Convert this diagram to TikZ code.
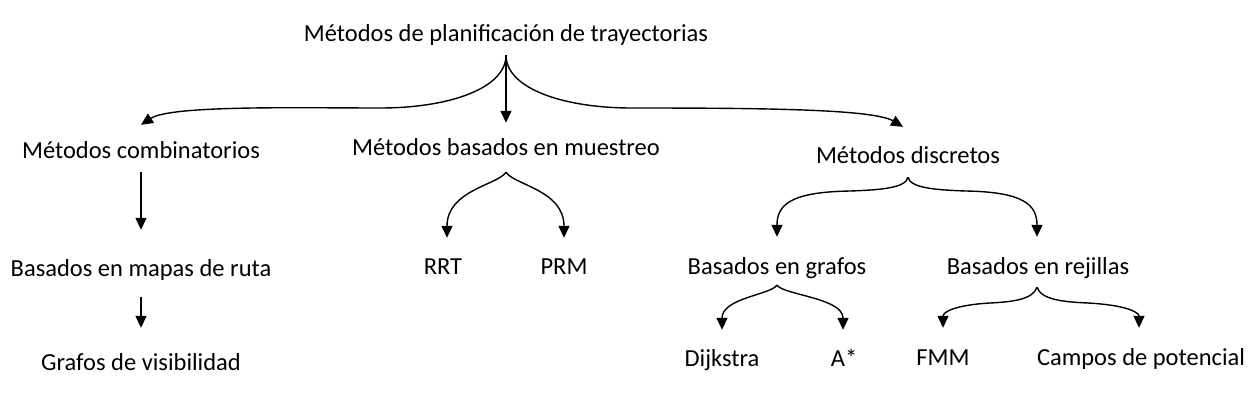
\documentclass[tikz,border=0pt]{standalone}
\usepackage{fontspec}
\setmainfont{Carlito}
\usetikzlibrary{arrows.meta}
\begin{document}
\begin{tikzpicture}[x=1pt,y=-1pt,
  lbl/.style={anchor=base,inner sep=0pt,text height=18pt,text depth=6pt,font=\fontsize{24.5}{28}\selectfont},
  arr/.style={line width=1.4pt,-{Triangle[length=12pt,width=11pt]}}]
\useasboundingbox (0,0) rectangle (1255,413);
\node[lbl] (root) at (506,41) {Métodos de planificación de trayectorias};
\node[lbl] (comb) at (141,158) {Métodos combinatorios};
\node[lbl] (mues) at (506,155) {Métodos basados en muestreo};
\node[lbl] (disc) at (908,163) {Métodos discretos};
\node[lbl] (mapas) at (141,276) {Basados en mapas de ruta};
\node[lbl] (visib) at (141,370) {Grafos de visibilidad};
\node[lbl] (rrt) at (443,274) {RRT};
\node[lbl] (prm) at (564,274) {PRM};
\node[lbl] (graf) at (777,274) {Basados en grafos};
\node[lbl] (rej) at (1038,274) {Basados en rejillas};
\node[lbl] (dijk) at (722,366) {Dijkstra};
\node[lbl] (astar) at (844,366) {A*};
\node[lbl] (fmm) at (943,365) {FMM};
\node[lbl] (camp) at (1141,365) {Campos de potencial};
% root
\draw[arr] ([yshift=-8pt]root.south) .. controls (506,88) and (450,108) .. (380,108)
  .. controls (300,108) and (171,105) .. ([yshift=15pt]comb.north);
\draw[arr] ([yshift=-8pt]root.south) -- ([yshift=14pt]mues.north);
\draw[arr] ([yshift=-8pt]root.south) .. controls (506,88) and (562,108) .. (632,108)
  .. controls (760,108) and (873,109) .. ([xshift=-5pt,yshift=18pt]disc.north);
% combinatorios
\draw[arr] ([yshift=-8pt]comb.south) -- ([yshift=28pt]mapas.north);
\draw[arr] ([yshift=-15pt]mapas.south) -- ([yshift=24pt]visib.north);
% muestreo
\draw[arr] ([yshift=-11pt]mues.south) .. controls (498,185) and (447,190) .. ([xshift=4pt,yshift=18pt]rrt.north);
\draw[arr] ([yshift=-11pt]mues.south) .. controls (514,185) and (564,190) .. ([yshift=18pt]prm.north);
% discretos
\draw[arr] ([yshift=-8pt]disc.south) .. controls (906,188) and (880,190) .. (850,191)
  .. controls (790,192) and (777,205) .. ([yshift=19pt]graf.north);
\draw[arr] ([yshift=-8pt]disc.south) .. controls (910,188) and (936,190) .. (966,191)
  .. controls (1024,192) and (1037,205) .. ([xshift=-1pt,yshift=19pt]rej.north);
% grafos
\draw[arr] ([yshift=-5pt]graf.south) .. controls (770,295) and (722,298) .. ([yshift=18pt]dijk.north);
\draw[arr] ([yshift=-5pt]graf.south) .. controls (784,295) and (843,298) .. ([xshift=-1pt,yshift=18pt]astar.north);
% rejillas
\draw[arr] ([xshift=-1pt,yshift=-7pt]rej.south) .. controls (1033,300) and (1010,302) .. (990,303)
  .. controls (955,305) and (943,312) .. ([yshift=19pt]fmm.north);
\draw[arr] ([xshift=-1pt,yshift=-7pt]rej.south) .. controls (1041,300) and (1065,302) .. (1088,303)
  .. controls (1125,305) and (1139,312) .. ([xshift=-2pt,yshift=19pt]camp.north);
\end{tikzpicture}
\end{document}
